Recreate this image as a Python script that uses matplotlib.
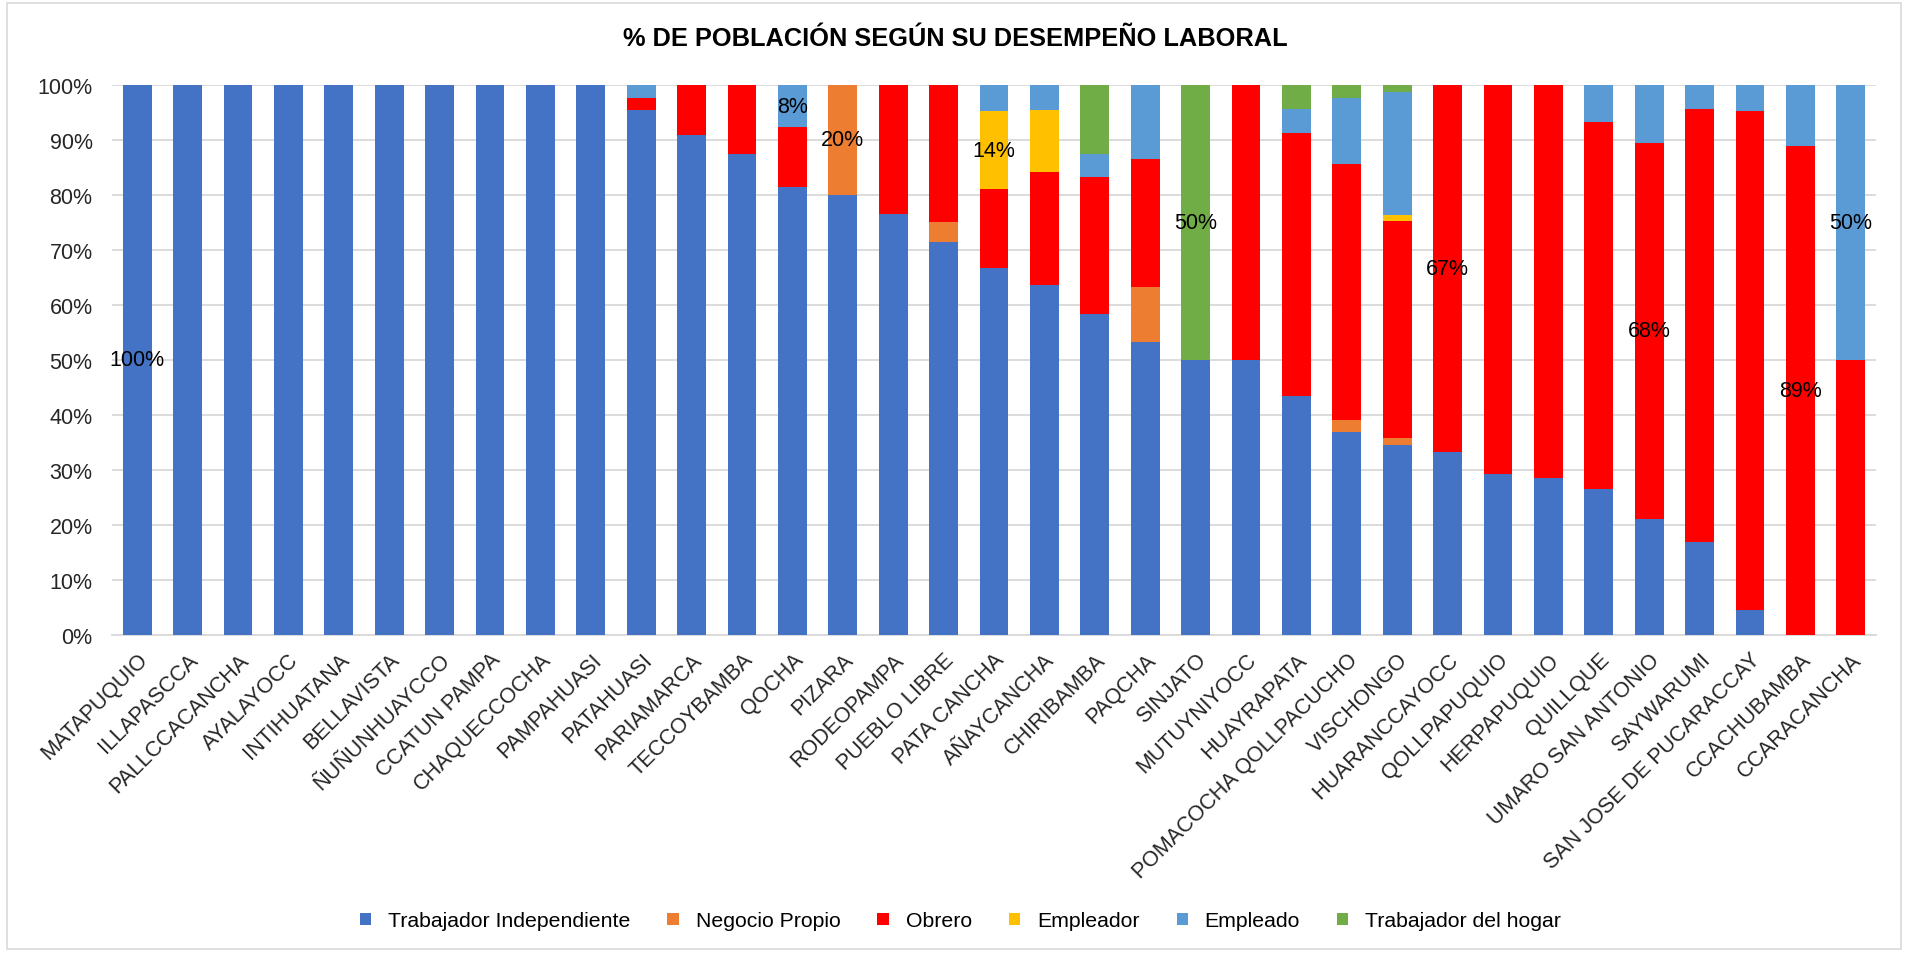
import matplotlib
matplotlib.use("Agg")
import matplotlib.pyplot as plt
from matplotlib.patches import Rectangle
import numpy as np

plt.rcParams['font.family'] = ['Liberation Sans', 'DejaVu Sans']

categories = [
    "MATAPUQUIO", "ILLAPASCCA", "PALLCCACANCHA", "AYALAYOCC", "INTIHUATANA",
    "BELLAVISTA", "ÑUÑUNHUAYCCO", "CCATUN PAMPA", "CHAQUECCOCHA", "PAMPAHUASI",
    "PATAHUASI", "PARIAMARCA", "TECCOYBAMBA", "QOCHA", "PIZARA",
    "RODEOPAMPA", "PUEBLO LIBRE", "PATA CANCHA", "AÑAYCANCHA", "CHIRIBAMBA",
    "PAQCHA", "SINJATO", "MUTUYNIYOCC", "HUAYRAPATA", "POMACOCHA QOLLPACUCHO",
    "VISCHONGO", "HUARANCCAYOCC", "QOLLPAPUQUIO", "HERPAPUQUIO", "QUILLQUE",
    "UMARO SAN ANTONIO", "SAYWARUMI", "SAN JOSE DE PUCARACCAY", "CCACHUBAMBA", "CCARACANCHA",
]

# % per category
independiente = [100, 100, 100, 100, 100, 100, 100, 100, 100, 100,
                 95.5, 90.9, 87.5, 81.5, 80.0, 76.5, 71.4, 66.7, 63.6, 58.3,
                 53.3, 50.0, 50.0, 43.5, 37.0, 34.6, 33.3, 29.2, 28.5, 26.5,
                 21.1, 17.0, 4.5, 0, 0]
negocio = [0, 0, 0, 0, 0, 0, 0, 0, 0, 0,
           0, 0, 0, 0, 20.0, 0, 3.6, 0, 0, 0,
           10.0, 0, 0, 0, 2.1, 1.2, 0, 0, 0, 0,
           0, 0, 0, 0, 0]
obrero = [0, 0, 0, 0, 0, 0, 0, 0, 0, 0,
          2.2, 9.1, 12.5, 10.8, 0, 23.5, 25.0, 14.3, 20.5, 25.0,
          23.3, 0, 50.0, 47.8, 46.6, 39.4, 66.7, 70.8, 71.5, 66.7,
          68.4, 78.6, 90.8, 88.9, 50.0]
empleador = [0, 0, 0, 0, 0, 0, 0, 0, 0, 0,
             0, 0, 0, 0, 0, 0, 0, 14.3, 11.4, 0,
             0, 0, 0, 0, 0, 1.2, 0, 0, 0, 0,
             0, 0, 0, 0, 0]
empleado = [0, 0, 0, 0, 0, 0, 0, 0, 0, 0,
            2.3, 0, 0, 7.7, 0, 0, 0, 4.7, 4.5, 4.2,
            13.4, 0, 0, 4.3, 12.0, 22.4, 0, 0, 0, 6.8,
            10.5, 4.4, 4.7, 11.1, 50.0]
hogar = [0, 0, 0, 0, 0, 0, 0, 0, 0, 0,
         0, 0, 0, 0, 0, 0, 0, 0, 0, 12.5,
         0, 50.0, 0, 4.4, 2.3, 1.2, 0, 0, 0, 0,
         0, 0, 0, 0, 0]

series_names = ["Trabajador Independiente", "Negocio Propio", "Obrero",
                "Empleador", "Empleado", "Trabajador del hogar"]
series_vals = [independiente, negocio, obrero, empleador, empleado, hogar]
colors = ["#4472C4", "#ED7D31", "#FF0000", "#FFC000", "#5B9BD5", "#70AD47"]

# which segments carry a data label: (category index, series index)
labelled = [(0, 0), (13, 4), (14, 1), (17, 3), (21, 5), (26, 2), (30, 2), (33, 2), (34, 4)]

fig = plt.figure(figsize=(19.08, 9.54), dpi=100)
ax = fig.add_axes([0.0587, 0.3333, 0.9245, 0.5766])

x = np.arange(len(categories))
bottom = np.zeros(len(categories))
bars = []
for name, vals, col in zip(series_names, series_vals, colors):
    vals = np.array(vals, dtype=float)
    ax.bar(x, vals, 0.57, bottom=bottom, color=col, label=name, zorder=3, linewidth=0)
    bars.append((vals, bottom.copy()))
    bottom += vals

for ci, si in labelled:
    vals, base = bars[si]
    ax.text(ci, base[ci] + vals[ci] / 2, f"{vals[ci]:.0f}%", ha='center', va='center',
            fontsize=15.5, color='black', zorder=5)

ax.set_xlim(-0.5, len(categories) - 0.5)
ax.set_ylim(0, 100)
ax.set_yticks(np.arange(0, 101, 10))
ax.set_yticklabels([f"{v}%" for v in range(0, 101, 10)], fontsize=15.5, color='#262626')
ax.set_xticks(x)
ax.set_xticklabels(categories, rotation=45, ha='right', rotation_mode='anchor',
                   fontsize=15.5, color='#262626')
ax.tick_params(axis='both', length=0)
ax.tick_params(axis='y', pad=14)
ax.tick_params(axis='x', pad=10)
ax.grid(axis='y', color='#D9D9D9', linewidth=1.3, zorder=0)
for s in ['top', 'right', 'left']:
    ax.spines[s].set_visible(False)
ax.spines['bottom'].set_color('#D9D9D9')
ax.spines['bottom'].set_linewidth(1.3)

fig.text(0.5005, 1 - 39 / 954, "% DE POBLACIÓN SEGÚN SU DESEMPEÑO LABORAL",
         ha='center', va='center', fontsize=18.3, fontweight='bold', color='black')

fig.legend(loc='center', bbox_to_anchor=(0.5034, 1 - 922 / 954), ncol=6, frameon=False,
           fontsize=15.3, handlelength=0.52, handleheight=0.52, handletextpad=0.8,
           columnspacing=1.75)

fig.patches.append(Rectangle((7 / 1908, 4 / 954), 1 - 14 / 1908, 1 - 8 / 954,
                             transform=fig.transFigure, fill=False,
                             edgecolor='#D9D9D9', linewidth=1.2))

fig.savefig("out.png", dpi=100)
